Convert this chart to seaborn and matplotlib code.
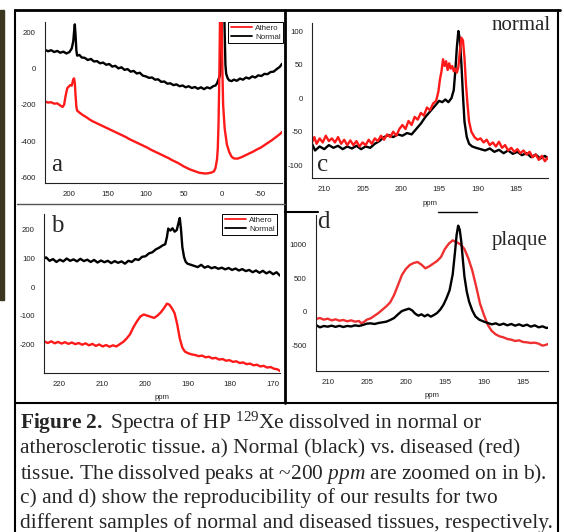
import matplotlib
matplotlib.use('Agg')
import matplotlib.pyplot as plt
from matplotlib.lines import Line2D
from matplotlib.patches import Rectangle
import seaborn as sns

W, H = 564, 532

# --- panel a: full spectra ---
a_ppm_normal = [232, 228, 224, 220, 216, 212, 208, 204, 200, 197, 195, 194, 193, 192, 191, 190,
                187, 184, 180, 176, 172, 168, 164, 160, 156, 152, 148, 144, 140, 136, 132, 128,
                124, 120, 116, 112, 108, 104, 100, 96, 92, 88, 84, 80, 76, 72, 68, 64, 60, 56,
                52, 48, 44, 40, 36, 32, 28, 24, 20, 16, 12, 9, 7, 5, 3, 2, 1, 0, -1, -2, -3, -4,
                -5, -7, -9, -12, -15, -19, -23, -27, -31, -35, -39, -43, -47, -51, -55, -59, -63,
                -67, -71, -75, -78]
a_normal = [102, 94, 100, 90, 96, 86, 92, 82, 90, 110, 150, 200, 242, 180, 100, 70,
            74, 60, 58, 46, 52, 38, 40, 28, 32, 20, 24, 10, 14, 0, 6, -8,
            -4, -18, -14, -28, -24, -40, -44, -52, -50, -62, -60, -74, -72, -84, -82, -92, -88, -98,
            -94, -104, -98, -108, -102, -112, -104, -114, -104, -110, -98, -94, -82, -60, -35, 20, 200, 420, 480, 420, 200, 20,
            -30, -55, -66, -70, -62, -68, -56, -62, -50, -56, -44, -50, -38, -42, -30, -32, -20,
            -18, -4, 8, 25]
a_ppm_athero = [232, 228, 224, 220, 216, 212, 209, 207, 205, 203, 201, 199, 197, 195, 194, 193, 192, 191, 190,
                186, 182, 178, 174, 170, 166, 162, 158, 154, 150, 146, 142, 138, 134, 130, 126, 122, 118,
                114, 110, 106, 102, 98, 94, 90, 86, 82, 78, 74, 70, 66, 62, 58, 54, 50, 46, 42, 38, 34,
                30, 26, 22, 18, 14, 11, 9, 7, 6, 5, 4, 3, 2, 1, 0, -1, -3, -6, -9, -12, -15, -20, -25,
                -30, -35, -40, -45, -50, -55, -60, -65, -70, -75, -78]
a_athero = [-182, -188, -186, -194, -192, -204, -212, -200, -150, -110, -100, -92, -95, -60, -55, -80, -150, -210, -232,
            -246, -258, -268, -280, -290, -298, -306, -314, -322, -330, -338, -346, -354, -362, -370, -378, -388, -396,
            -404, -412, -420, -428, -436, -446, -454, -462, -470, -478, -486, -494, -504, -512, -520, -530, -540, -548, -556, -562, -568,
            -574, -576, -578, -576, -572, -566, -548, -500, -440, -300, -50, 300, 500, 300, 0, -200, -330, -420, -460, -485, -495, -496, -488,
            -478, -468, -458, -446, -436, -422, -408, -394, -378, -362, -350]

# --- panel b: zoom on dissolved peaks ---
b_ppm_normal = [223.5, 223, 222.2, 221.4, 220.6, 219.8, 219, 218.2, 217.4, 216.6, 215.8, 215, 214.2, 213.4,
                212.6, 211.8, 211, 210.2, 209.4, 208.6, 207.8, 207, 206.2, 205.4, 204.6, 203.8, 203, 202.2,
                201.4, 200.6, 199.8, 199, 198.2, 197.4, 196.6, 195.8, 195.2, 194.8, 194.5, 194, 193.5, 193,
                192.5, 192.1, 191.8, 191.5, 191.2, 190.8, 190.4, 190, 189.2, 188.4, 187.6, 186.8, 186, 185.2,
                184.4, 183.6, 182.8, 182, 181.2, 180.4, 179.6, 178.8, 178, 177.2, 176.4, 175.6, 174.8, 174,
                173.2, 172.4, 171.6, 170.8, 170, 169.2, 168.4]
b_normal = [100, 104, 92, 98, 88, 96, 90, 100, 92, 97, 90, 99, 91, 96,
            88, 95, 86, 93, 87, 92, 84, 91, 85, 90, 82, 92, 88, 98,
            95, 106, 108, 118, 122, 132, 138, 146, 150, 175, 205, 198, 206, 194,
            200, 225, 242, 200, 140, 105, 88, 82, 78, 74, 70, 78, 68, 73,
            66, 70, 64, 68, 62, 67, 60, 65, 58, 63, 56, 60, 52, 58,
            50, 57, 48, 54, 45, 52, 40]
b_ppm_athero = [223.5, 222.6, 221.8, 221, 220.2, 219.4, 218.6, 217.8, 217, 216.2, 215.4, 214.6, 213.8, 213,
                212.2, 211.4, 210.6, 209.8, 209, 208.2, 207.4, 206.6, 205.8, 205, 204.2, 203.4, 202.6, 201.8,
                201, 200.2, 199.4, 198.6, 197.8, 197, 196.2, 195.4, 194.8, 194.2, 193.6, 193, 192.4, 191.8,
                191.2, 190.6, 189.8, 189, 188.2, 187.4, 186.6, 185.8, 185, 184.2, 183.4, 182.6, 181.8, 181,
                180.2, 179.4, 178.6, 177.8, 177, 176.2, 175.4, 174.6, 173.8, 173, 172.2, 171.4, 170.6, 169.8,
                169, 168.4]
b_athero = [-190, -196, -190, -197, -192, -198, -193, -199, -194, -200, -196, -202, -197, -204,
            -199, -206, -201, -208, -203, -209, -204, -208, -200, -192, -180, -165, -140, -120,
            -103, -96, -100, -104, -108, -100, -88, -72, -58, -62, -75, -92, -130, -180,
            -212, -226, -232, -236, -238, -242, -240, -246, -244, -250, -248, -254, -252, -258,
            -256, -262, -260, -266, -264, -270, -268, -274, -272, -278, -276, -282, -280, -286,
            -288, -294]

# --- panel c: normal tissue, two samples ---
c_ppm_black = [211.6, 211.2, 210.6, 210, 209.4, 208.8, 208.2, 207.6, 207, 206.4, 205.8, 205.2, 204.6, 204,
               203.4, 202.8, 202.2, 201.6, 201, 200.4, 199.8, 199.2, 198.6, 198, 197.4, 196.8, 196.2, 195.6,
               195, 194.6, 194.2, 193.8, 193.4, 193.1, 192.9, 192.7, 192.5, 192.3, 192.1, 191.9, 191.7, 191.4,
               191.1, 190.7, 190.2, 189.6, 189, 188.4, 187.8, 187.2, 186.6, 186, 185.4, 184.8, 184.2, 183.6,
               183, 182.4, 181.8, 181.2, 180.8]
c_black = [-68, -78, -72, -76, -70, -74, -71, -76, -72, -75, -71, -76, -72, -74,
           -68, -64, -58, -55, -58, -54, -56, -52, -54, -46, -38, -28, -20, -12,
           -4, -6, -2, -6, 0, 12, 40, 75, 100, 88, 50, 5, -35, -58,
           -68, -72, -74, -76, -78, -75, -80, -77, -82, -78, -83, -80, -85, -82,
           -88, -84, -90, -86, -90]
c_ppm_red = [211.6, 211.3, 211, 210.6, 210.2, 209.8, 209.4, 209, 208.6, 208.2, 207.8, 207.4, 207, 206.6,
             206.2, 205.8, 205.4, 205, 204.6, 204.2, 203.8, 203.4, 203, 202.6, 202.2, 201.8, 201.4, 201,
             200.6, 200.2, 199.8, 199.4, 199, 198.6, 198.2, 197.8, 197.4, 197, 196.6, 196.2, 195.8, 195.4,
             195.1, 194.9, 194.7, 194.5, 194.3, 194.1, 193.9, 193.7, 193.5, 193.3, 193.1, 192.9, 192.7, 192.5,
             192.3, 192.1, 191.9, 191.7, 191.5, 191.3, 191.1, 190.8, 190.4, 190, 189.6, 189.2, 188.8, 188.4,
             188, 187.6, 187.2, 186.8, 186.4, 186, 185.6, 185.2, 184.8, 184.4, 184, 183.6, 183.2, 182.8,
             182.4, 182, 181.6, 181.2, 180.8]
c_red = [-66, -58, -68, -60, -66, -56, -64, -60, -66, -58, -68, -62, -70, -63,
         -70, -64, -72, -66, -70, -62, -68, -60, -64, -56, -62, -54, -58, -50,
         -56, -46, -40, -46, -34, -40, -28, -32, -22, -26, -14, -18, -8, -4,
         10, 28, 40, 58, 48, 55, 42, 52, 44, 48, 40, 44, 38, 46,
         70, 90, 86, 60, 20, -10, -35, -50, -58, -62, -60, -66, -62, -70,
         -66, -72, -65, -74, -70, -78, -74, -80, -76, -82, -78, -84, -80, -88,
         -84, -92, -86, -94, -88]

# --- panel d: plaque, two samples ---
d_ppm_black = [211.5, 211, 210.5, 210, 209.5, 209, 208.5, 208, 207.5, 207, 206.5, 206, 205.5, 205, 204.5,
               204, 203.5, 203, 202.5, 202, 201.5, 201, 200.5, 200, 199.6, 199.2, 198.8, 198.4, 198, 197.6,
               197.2, 196.8, 196.4, 196, 195.6, 195.2, 194.8, 194.4, 194, 193.7, 193.5, 193.3, 193.1, 192.9,
               192.7, 192.5, 192.2, 191.9, 191.5, 191.1, 190.6, 190, 189.5, 189, 188.5, 188, 187.5, 187,
               186.5, 186, 185.5, 185, 184.5, 184, 183.5, 183, 182.5, 182, 181.8]
d_black = [-200, -235, -215, -225, -210, -228, -212, -230, -214, -222, -205, -215, -200, -180, -175,
           -185, -170, -160, -150, -125, -95, -40, 10, 30, 45, 20, -30, -60, -40, -70,
           -45, -75, -50, -20, 30, 100, 200, 320, 560, 900, 1150, 1290, 1230, 1050,
           780, 530, 300, 150, 20, -70, -120, -150, -170, -190, -175, -200, -180, -205,
           -185, -210, -190, -215, -195, -225, -205, -235, -220, -245, -240]
d_ppm_red = [211.5, 211, 210.5, 210, 209.5, 209, 208.5, 208, 207.5, 207, 206.5, 206, 205.7, 205.3, 205,
             204.5, 204, 203.5, 203, 202.5, 202, 201.5, 201, 200.5, 200, 199.5, 199, 198.5, 198, 197.5,
             197, 196.5, 196, 195.5, 195, 194.5, 194, 193.5, 193, 192.5, 192, 191.5, 191, 190.5, 190,
             189.5, 189, 188.5, 188, 187.5, 187, 186.5, 186, 185.5, 185, 184.5, 184, 183.5, 183, 182.5,
             182, 181.8]
d_red = [-110, -95, -120, -105, -130, -115, -135, -125, -145, -130, -150, -140, -175, -150, -120,
         -100, -60, -20, 30, 80, 140, 250, 400, 550, 640, 700, 730, 745, 705, 650,
         680, 720, 760, 820, 940, 1020, 1070, 1040, 1010, 940, 800, 620, 380, 120, -50,
         -200, -290, -340, -370, -385, -410, -420, -440, -430, -455, -460, -470, -465, -480, -510,
         -495, -485]

legend_labels = ['Athero', 'Normal']
caption = [r'$\mathbf{Figure\ 2.}$ Spectra of HP $^{129}$Xe dissolved in normal or',
           'atherosclerotic tissue. a) Normal (black) vs. diseased (red)',
           r'tissue. The dissolved peaks at ~200 $\mathit{ppm}$ are zoomed on in b).',
           'c) and d) show the reproducibility of our results for two',
           'different samples of normal and diseased tissues, respectively.']

sns.set_style('white')
plt.rcParams['font.family'] = ['Liberation Sans', 'DejaVu Sans']
plt.rcParams['axes.unicode_minus'] = False
plt.rcParams['mathtext.fontset'] = 'custom'
plt.rcParams['mathtext.rm'] = 'Liberation Serif'
plt.rcParams['mathtext.it'] = 'Liberation Serif:italic'
plt.rcParams['mathtext.bf'] = 'Liberation Serif:bold'

RED = '#ff1a1a'
fig = plt.figure(figsize=(W / 100, H / 100), dpi=100)


def px_axes(x0, y0, x1, y1):
    return fig.add_axes([x0 / W, 1 - y1 / H, (x1 - x0) / W, (y1 - y0) / H])


def fline(xs, ys, lw=1.5, color='black'):
    fig.add_artist(Line2D([x / W for x in xs], [1 - y / H for y in ys],
                          transform=fig.transFigure, color=color, lw=lw))


def style(ax, xlim, ylim, xticks, yticks):
    ax.set_xlim(xlim)
    ax.set_ylim(ylim)
    ax.set_xticks(xticks)
    ax.set_yticks(yticks)
    ax.set_xlabel('')
    ax.set_ylabel('')
    sns.despine(ax=ax)
    for s in ['left', 'bottom']:
        ax.spines[s].set_linewidth(0.8)
        ax.spines[s].set_color('#222222')
    ax.tick_params(direction='out', length=4, width=0.7, labelsize=5.6, colors='#222222')
    ax.tick_params(axis='y', pad=2.5)
    ax.tick_params(axis='x', pad=2)
    ax.patch.set_alpha(0)


def add_legend(ax, x1, y0):
    handles = [Line2D([], [], color=RED, lw=1.3), Line2D([], [], color='black', lw=1.3)]
    leg = ax.legend(handles, legend_labels, loc='upper right', bbox_to_anchor=(x1 / W, 1 - y0 / H),
                    bbox_transform=fig.transFigure, fontsize=5.8, frameon=True, fancybox=False,
                    edgecolor='black', framealpha=1, borderpad=0.3, labelspacing=0.15,
                    handlelength=2.6, handletextpad=0.4, borderaxespad=0)
    leg.get_frame().set_linewidth(0.7)


# panel a
ax = px_axes(45, 22, 282, 183)
sns.lineplot(x=a_ppm_normal, y=a_normal, color='black', lw=1.7, sort=False, estimator=None, ax=ax)
sns.lineplot(x=a_ppm_athero, y=a_athero, color=RED, lw=1.7, sort=False, estimator=None, ax=ax)
style(ax, (232, -78), (-630, 255), [200, 150, 100, 50, 0, -50], [200, 0, -200, -400, -600])
add_legend(ax, 283, 22)

# panel b
ax = px_axes(44, 214, 280, 373)
sns.lineplot(x=b_ppm_normal, y=b_normal, color='black', lw=1.7, sort=False, estimator=None, ax=ax)
sns.lineplot(x=b_ppm_athero, y=b_athero, color=RED, lw=1.7, sort=False, estimator=None, ax=ax)
style(ax, (223.5, 168.4), (-301, 256), [220, 210, 200, 190, 180, 170], [200, 100, 0, -100, -200])
ax.set_xlabel('ppm', fontsize=5.6, labelpad=4)
add_legend(ax, 277, 214)

# panel c
ax = px_axes(312, 23, 548, 178)
sns.lineplot(x=c_ppm_black, y=c_black, color='black', lw=1.7, sort=False, estimator=None, ax=ax)
sns.lineplot(x=c_ppm_red, y=c_red, color=RED, lw=1.7, sort=False, estimator=None, ax=ax)
style(ax, (211.6, 180.8), (-119, 112), [210, 205, 200, 195, 190, 185], [100, 50, 0, -50, -100])
ax.set_xlabel('ppm', fontsize=5.6, labelpad=5)

# panel d
ax = px_axes(316, 215, 548, 371)
sns.lineplot(x=d_ppm_red, y=d_red, color='#f03030', lw=1.7, sort=False, estimator=None, ax=ax)
sns.lineplot(x=d_ppm_black, y=d_black, color='black', lw=1.7, sort=False, estimator=None, ax=ax)
style(ax, (211.5, 181.8), (-890, 1450), [210, 205, 200, 195, 190, 185], [1000, 500, 0, -500])
ax.set_xlabel('ppm', fontsize=5.6, labelpad=4)

# panel letters and sample names
serif = dict(family='Liberation Serif', va='baseline')
fig.text(51 / W, 1 - 171 / H, 'a', size=18, **serif)
fig.text(51 / W, 1 - 232 / H, 'b', size=18, **serif)
fig.text(317 / W, 1 - 171 / H, 'c', size=18, **serif)
fig.text(317 / W, 1 - 228 / H, 'd', size=18, **serif)
fig.text(492 / W, 1 - 30 / H, 'normal', size=15, **serif)
fig.text(492 / W, 1 - 245 / H, 'plaque', size=15, **serif)

# frame lines of the page figure
fig.add_artist(Rectangle((0, 1 - 300 / H), 4 / W, 290 / H, transform=fig.transFigure, color='#3b3620'))
fline([15, 560], [10, 10], lw=2)
fline([15, 15], [10, 532], lw=1.5)
fline([558, 558], [10, 532], lw=1.5)
fline([285, 285], [10, 403], lw=2)
fline([17, 285], [203.5, 203.5], lw=1, color='#555555')
fline([285, 318], [212, 212], lw=1.5)
fline([438, 477], [212, 212], lw=1)
fline([15, 557], [403, 403], lw=1.5)

# caption
for i, line in enumerate(caption):
    fig.text(20 / W, 1 - (429 + 24.8 * i) / H, line, family='Liberation Serif', size=15.4, va='baseline')

fig.savefig('out.png', dpi=100)
